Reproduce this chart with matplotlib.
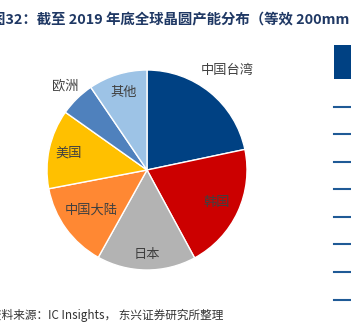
import numpy as np
import matplotlib.pyplot as plt
from matplotlib.patches import Rectangle
from matplotlib.lines import Line2D

plt.rcParams['font.family'] = ['Noto Sans CJK SC', 'DejaVu Sans']

# ============================================================
# DATA
# ============================================================

regions = ["中国台湾", "韩国", "日本", "中国大陆", "美国", "欧洲", "其他"]
shares = [21.7, 20.4, 16.0, 13.9, 12.8, 5.7, 9.5]
colors = ["#004183", "#CC0000", "#B3B3B3", "#FF8833", "#FFC000", "#4F81BD", "#9DC3E6"]
label_dist = [1.28, 0.77, 0.85, 0.69, 0.80, 1.17, 0.81]

title = "图32：截至 2019 年底全球晶圆产能分布（等效 200mm"
source = "资料来源：IC Insights， 东兴证券研究所整理"

# ============================================================
# FIGURE
# ============================================================

W, H = 351, 330
fig = plt.figure(figsize=(W / 100, H / 100), dpi=100)

cx, cy, r = 147, 170, 100
ax = fig.add_axes([(cx - r) / W, (H - cy - r) / H, 2 * r / W, 2 * r / H])

wedges, texts = ax.pie(
    shares,
    colors=colors,
    startangle=90,
    counterclock=False,
    labels=regions,
    wedgeprops=dict(edgecolor="white", linewidth=1.0),
    textprops=dict(fontsize=9.5, color="#404040"),
)

for w, t, d in zip(wedges, texts, label_dist):
    mid = np.deg2rad((w.theta1 + w.theta2) / 2)
    t.set_position((d * np.cos(mid), d * np.sin(mid)))
    t.set_ha("center")
    t.set_va("center")

ax.set_xlim(-1, 1)
ax.set_ylim(-1, 1)

# title and source
fig.text(-9 / W, 1 - 20 / H, title, fontsize=10.4, fontweight="bold",
         color="#1F3864", va="center", ha="left")

fig.text(-10 / W, 1 - 315 / H, source, fontsize=8.4, style="italic",
         color="#333333", va="center", ha="left")

# neighbouring table edge
fig.patches.append(Rectangle((334 / W, 1 - 79 / H), 20 / W, 34 / H,
                             transform=fig.transFigure, facecolor="#004183",
                             edgecolor="none"))

for y in [107, 134, 162, 189, 217, 244, 272, 300]:
    fig.lines.append(Line2D([334 / W, 1.0], [1 - y / H, 1 - y / H],
                            transform=fig.transFigure, color="#1F5A96",
                            linewidth=1.5))

fig.savefig("out.png", dpi=100)
